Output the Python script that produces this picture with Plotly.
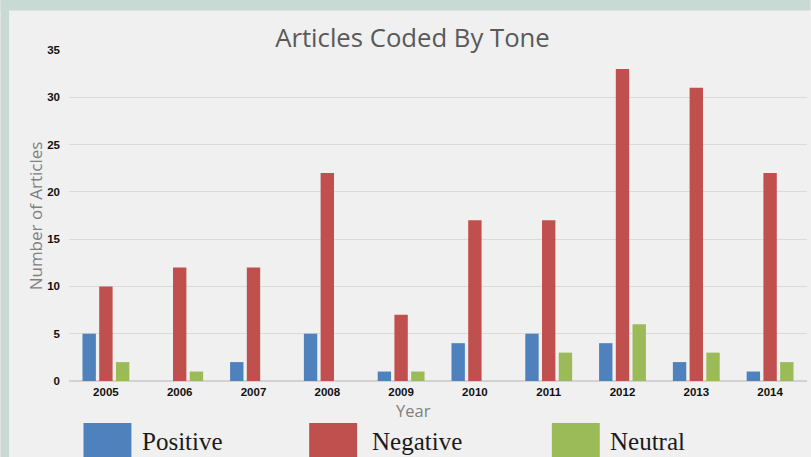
import plotly.graph_objects as go

years = ["2005", "2006", "2007", "2008", "2009", "2010", "2011", "2012", "2013", "2014"]
positive = [5, 0, 2, 5, 1, 4, 5, 4, 2, 1]
negative = [10, 12, 12, 22, 7, 17, 17, 33, 31, 22]
neutral = [2, 1, 0, 0, 1, 0, 3, 6, 3, 2]
series_names = ["Positive", "Negative", "Neutral"]
series_colors = ["#4f81bd", "#c0504d", "#9bbb59"]
y_ticks = [0, 5, 10, 15, 20, 25, 30, 35]

W, H = 811, 457
L, R, T, B = 68.5, 3.5, 50.4, 76
PW, PH = W - L - R, H - T - B


def px(x):
    return (x - L) / PW


def py(y):
    return (H - B - y) / PH


fig = go.Figure()
for name, vals, col in zip(series_names, [positive, negative, neutral], series_colors):
    fig.add_trace(go.Bar(x=years, y=vals, name=name, marker=dict(color=col, line=dict(width=0)),
                         showlegend=False))

frame = "#c9d9d3"
shapes = [
    dict(type="rect", xref="paper", yref="paper", x0=px(0), x1=px(8.5), y0=py(H), y1=py(0),
         fillcolor=frame, line=dict(width=0), layer="below"),
    dict(type="rect", xref="paper", yref="paper", x0=px(0), x1=px(W), y0=py(11), y1=py(0),
         fillcolor=frame, line=dict(width=0), layer="below"),
]
annotations = [
    dict(text="Number of Articles", xref="paper", yref="paper", x=px(35), y=py(216),
         textangle=-90, showarrow=False, xanchor="center", yanchor="middle",
         font=dict(family="Open Sans", size=17, color="#808080")),
    dict(text="Year", xref="paper", yref="paper", x=px(413), y=py(410),
         showarrow=False, xanchor="center", yanchor="middle",
         font=dict(family="Open Sans", size=16.5, color="#808080")),
]
legend_sq_x = [83, 309, 552]
legend_tx_x = [140, 370, 608]
for name, col, sx, tx in zip(series_names, series_colors, legend_sq_x, legend_tx_x):
    shapes.append(dict(type="rect", xref="paper", yref="paper", x0=px(sx), x1=px(sx + 48),
                       y0=py(460), y1=py(423), fillcolor=col, line=dict(width=0)))
    annotations.append(dict(text=name, xref="paper", yref="paper", x=px(tx), y=py(441),
                            showarrow=False, xanchor="left", yanchor="middle",
                            font=dict(family="Liberation Serif", size=25, color="#1a1a1a")))

fig.update_layout(
    width=W, height=H,
    margin=dict(l=L, r=R, t=T, b=B, autoexpand=False),
    paper_bgcolor="#f0f0f0", plot_bgcolor="rgba(0,0,0,0)",
    barmode="group", bargap=0.32, bargroupgap=0.2,
    title=dict(text="Articles Coded By Tone", x=412.5 / W, xanchor="center",
               y=1 - 38 / H, yanchor="middle",
               font=dict(family="Open Sans", size=25.7, color="#595959")),
    shapes=shapes, annotations=annotations,
    xaxis=dict(showgrid=False, showline=False, ticks="", automargin=False,
               tickfont=dict(family="Liberation Sans", size=11.5, color="#111111", weight="bold"),
               ticklabelstandoff=2),
    yaxis=dict(range=[0, 35], tickvals=y_ticks, showgrid=True, gridcolor="#dadada", gridwidth=1.3,
               zeroline=True, zerolinecolor="#d2d2d2", zerolinewidth=1.5, showline=False,
               ticks="", automargin=False, ticklabelstandoff=8,
               tickfont=dict(family="Liberation Sans", size=11.5, color="#111111", weight="bold")),
)

fig.write_html(
    "out.html",
    config={"displayModeBar": False},
    post_script="document.body.style.margin='0';document.body.style.overflow='hidden';"
                "document.body.style.background='#f0f0f0';",
)
